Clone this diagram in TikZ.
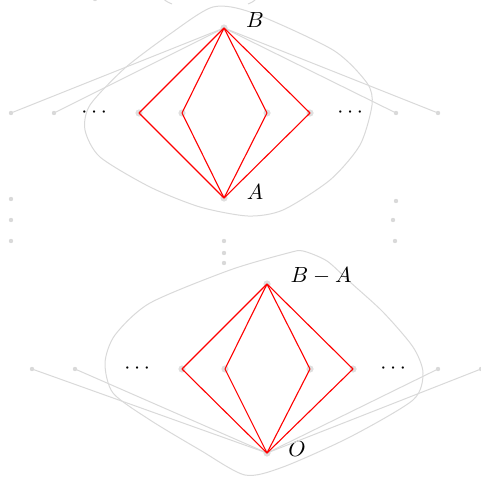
\documentclass[tikz,border=0pt]{standalone}
\usepackage{amsmath}
\usepackage{amssymb}
\tikzset{
  vtx/.style={circle, fill=gray!25, inner sep=0pt, minimum size=3.6pt},
  pt/.style={circle, fill=gray!30, inner sep=0pt, minimum size=2.2pt},
  faint/.style={draw=gray!30, line width=0.5pt},
  hasse/.style={draw=red, line width=0.55pt},
}
\begin{document}
\begin{tikzpicture}[x=0.5pt, y=-0.5pt, font=\fontsize{10.8}{13}\selectfont]
    \useasboundingbox (0,0) rectangle (481,476);
    % the two regions
    \draw[faint] plot[smooth cycle, tension=0.45] coordinates {
      (213,7) (253,13) (333,50) (367,83) (372,105) (360,145) (330,180)
      (283,210) (248,216) (200,207) (150,187) (100,157) (85,130) (90,105)
      (125,68) (170,34)};
    \draw[faint] plot[smooth cycle, tension=0.45] coordinates {
      (303,251) (327,261) (350,282) (383,312) (413,347) (423,373) (413,400)
      (350,437) (283,467) (245,475) (200,450) (150,420) (113,393) (105,363)
      (115,335) (150,303) (230,270) (288,253)};
    % cut by the page edge
    \node[pt] (cut) at (95,-1) {};
    \draw[faint] (158,-8) .. controls (165,1) .. (172,4);
    \draw[faint] (248,4) .. controls (255,1) .. (260,-8);

    % upper interval
    \node[vtx] (B) at (224,28) {};
    \node[vtx] (A) at (224,198) {};
    \node[pt] (u1) at (11,113) {};
    \node[pt] (u2) at (54,113) {};
    \node[vtx] (u3) at (139,113) {};
    \node[vtx] (u4) at (182,113) {};
    \node[vtx] (u5) at (267,113) {};
    \node[vtx] (u6) at (310,113) {};
    \node[pt] (u7) at (396,113) {};
    \node[pt] (u8) at (438,113) {};
    \node (ul) at (96,113) {$\cdots$};
    \node (ur) at (352,113) {$\cdots$};
    \node (lB) at (255,20) {$B$};
    \node (lA) at (255,192) {$A$};

    % lower interval
    \node[vtx] (BA) at (267,284) {};
    \node[vtx] (O) at (267,453) {};
    \node[pt] (d1) at (32,369) {};
    \node[pt] (d2) at (75,369) {};
    \node[vtx] (d3) at (182,369) {};
    \node[vtx] (d4) at (225,369) {};
    \node[vtx] (d5) at (310,369) {};
    \node[vtx] (d6) at (353,369) {};
    \node[pt] (d7) at (438,369) {};
    \node[pt] (d8) at (481,369) {};
    \node (dl) at (139,369) {$\cdots$};
    \node (dr) at (395,369) {$\cdots$};
    \node (lBA) at (321,276) {$B-A$};
    \node (lO) at (297,449) {$O$};

    % vertical dots
    \foreach \y [count=\i] in {199,220,241} {
      \node[pt] (vl\i) at (11,\y) {};
    }
    \node[pt] (vr1) at (396,201) {};
    \node[pt] (vr2) at (393,220) {};
    \node[pt] (vr3) at (395,241) {};
    \node[pt] (vm1) at (224,241) {};
    \node[pt] (vm2) at (224,253) {};
    \node[pt] (vm3) at (224,263) {};

    \path[faint]
      (B.center) edge (u1.center)
      (B.center) edge (u2.center)
      (B.center) edge (u7.center)
      (B.center) edge (u8.center)
      (O.center) edge (d1.center)
      (O.center) edge (d2.center)
      (O.center) edge (d7.center)
      (O.center) edge (d8.center);

    \path[hasse]
      (B.center) edge (u3.center)
      (B.center) edge (u4.center)
      (B.center) edge (u5.center)
      (B.center) edge (u6.center)
      (u3.center) edge (A.center)
      (u4.center) edge (A.center)
      (u5.center) edge (A.center)
      (u6.center) edge (A.center)
      (BA.center) edge (d3.center)
      (BA.center) edge (d4.center)
      (BA.center) edge (d5.center)
      (BA.center) edge (d6.center)
      (d3.center) edge (O.center)
      (d4.center) edge (O.center)
      (d5.center) edge (O.center)
      (d6.center) edge (O.center);
\end{tikzpicture}
\end{document}
